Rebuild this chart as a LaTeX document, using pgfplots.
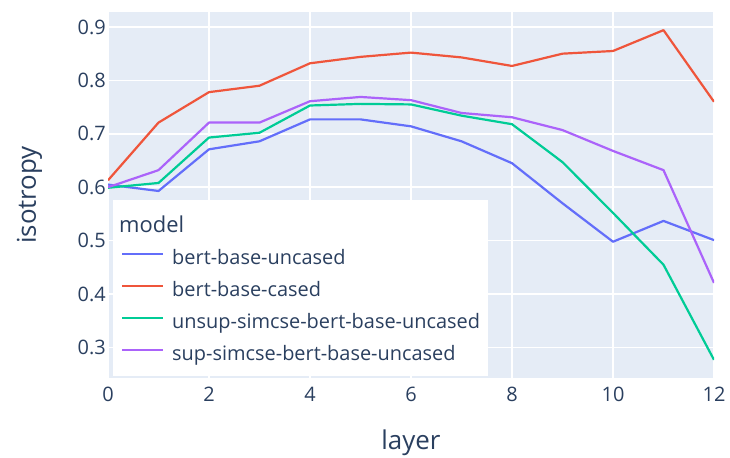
\documentclass[border=0pt]{standalone}
\usepackage{pgfplots}
\pgfplotsset{compat=1.18}
\usepackage{fontspec}
\setmainfont{Open Sans}
\definecolor{bg}{HTML}{E5ECF6}
\definecolor{txt}{HTML}{2A3F5F}
\definecolor{c1}{HTML}{636EFA}
\definecolor{c2}{HTML}{EF553B}
\definecolor{c3}{HTML}{00CC96}
\definecolor{c4}{HTML}{AB63FA}
\begin{document}
\begin{tikzpicture}
\useasboundingbox (0,0) rectangle (730bp,458bp);
\begin{axis}[
  at={(108bp,80bp)}, anchor=south west,
  scale only axis, width=606bp, height=366bp,
  xmin=0, xmax=12, ymin=0.243, ymax=0.928,
  axis background/.style={fill=bg},
  axis line style={draw=none},
  major tick length=0pt,
  grid=major,
  grid style={white, line width=1.5bp},
  xtick={0,2,4,6,8,10,12},
  ytick={0.3,0.4,0.5,0.6,0.7,0.8,0.9},
  /pgf/number format/assume math mode=true,
  /pgf/number format/fixed,
  /pgf/number format/precision=1,
  yticklabel style={/pgf/number format/fixed zerofill, font=\fontsize{20}{24}\selectfont, text=txt, inner sep=0pt, anchor=east, xshift=-2bp},
  xticklabel style={font=\fontsize{20}{24}\selectfont, text=txt, inner sep=0pt, anchor=north, yshift=-9bp},
  xlabel={layer},
  ylabel={isotropy},
  xlabel style={font=\fontsize{26}{30}\selectfont, text=txt, at={(axis description cs:0.5,-0.194)}, anchor=base},
  ylabel style={font=\fontsize{26}{30}\selectfont, text=txt, at={(axis description cs:-0.119,0.5)}, anchor=base},
  legend cell align=left,
  legend style={at={(axis description cs:0.008,0.005)}, anchor=south west,
    draw=none, fill=white, font=\fontsize{20}{24}\selectfont, text=txt,
    inner xsep=8bp, inner ysep=10.5bp, row sep=12.5bp,
    nodes={inner xsep=0bp, inner ysep=0bp, text height=15bp, text depth=4.5bp},
    /tikz/every odd column/.append style={column sep=8bp}},
  legend image code/.code={\draw[#1] (0bp,6bp) -- (41bp,6bp);},
  every axis plot/.append style={line width=2.2bp, line join=round},
]
\addlegendimage{empty legend}
\addlegendentry[font=\fontsize{22}{26}\selectfont, text height=22bp]{\hspace*{-53bp}model}
\addplot[c1, no marks] coordinates {(0,0.605) (1,0.593) (2,0.671) (3,0.686) (4,0.727) (5,0.727) (6,0.714) (7,0.686) (8,0.645) (9,0.570) (10,0.498) (11,0.537) (12,0.501)};
\addlegendentry{bert-base-uncased}
\addplot[c2, no marks] coordinates {(0,0.613) (1,0.721) (2,0.778) (3,0.790) (4,0.832) (5,0.844) (6,0.852) (7,0.843) (8,0.827) (9,0.850) (10,0.855) (11,0.894) (12,0.760)};
\addlegendentry{bert-base-cased}
\addplot[c3, no marks] coordinates {(0,0.599) (1,0.608) (2,0.693) (3,0.702) (4,0.753) (5,0.756) (6,0.755) (7,0.734) (8,0.718) (9,0.647) (10,0.552) (11,0.455) (12,0.277)};
\addlegendentry{unsup-simcse-bert-base-uncased}
\addplot[c4, no marks] coordinates {(0,0.600) (1,0.632) (2,0.721) (3,0.721) (4,0.761) (5,0.769) (6,0.763) (7,0.739) (8,0.731) (9,0.707) (10,0.668) (11,0.632) (12,0.421)};
\addlegendentry{sup-simcse-bert-base-uncased}
\end{axis}
\end{tikzpicture}
\end{document}
